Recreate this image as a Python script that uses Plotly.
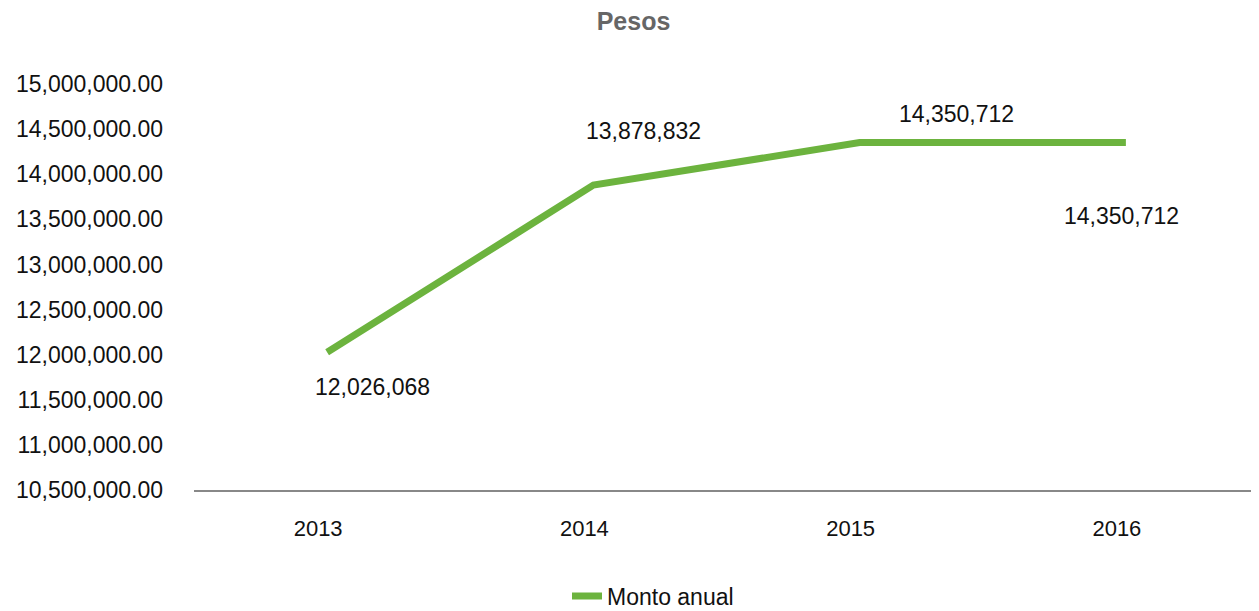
import plotly.graph_objects as go

years = ["2013", "2014", "2015", "2016"]
monto = [12026068, 13878832, 14350712, 14350712]
labels = ["12,026,068", "13,878,832", "14,350,712", "14,350,712"]
y_ticks = [10500000 + 500000 * i for i in range(10)]

green = "#6cb33e"
font = "Liberation Sans, Arial, sans-serif"

# page has an 8px body margin, so the figure is drawn 8px smaller
W, H = 1251, 603

fig = go.Figure()
fig.add_trace(go.Scatter(
    x=years, y=monto, mode="lines", name="Monto anual",
    line=dict(color=green, width=7),
    hoverinfo="x+y",
))

# label offsets (pixels) like the original data labels
# (category axis -> annotations need the category index, not "2013")
shifts = [(45, -35), (50, 54), (97, 29), (-4, -73)]
for i, (v, txt, (dx, dy)) in enumerate(zip(monto, labels, shifts)):
    fig.add_annotation(x=i, y=v, text=txt, showarrow=False,
                       xshift=dx, yshift=dy,
                       font=dict(family=font, size=23, color="#111"))

fig.update_layout(
    width=W, height=H,
    margin=dict(l=186, r=0, t=76, b=121),
    paper_bgcolor="white", plot_bgcolor="white",
    font=dict(family=font, size=21, color="#111"),
    title=dict(text="<b>Pesos</b>", x=0.5, xref="container", y=1 - 13 / H,
               yref="container", yanchor="middle",
               font=dict(family=font, size=25, color="#666")),
    showlegend=True,
    legend=dict(orientation="h", xref="container", yref="container",
                x=559 / W, xanchor="left", y=1 - 588 / H, yanchor="middle",
                font=dict(family=font, size=23, color="#111")),
)
fig.update_xaxes(type="category", range=[-0.5, len(years) - 0.5],
                 showgrid=False, showline=True,
                 linecolor="#888", linewidth=2,
                 ticks="outside", ticklen=18, tickcolor="rgba(0,0,0,0)",
                 ticklabelshift=-9, tickfont=dict(size=22))
fig.update_yaxes(range=[10500000, 15000000], tickvals=y_ticks,
                 tickformat=",.2f", showgrid=False, zeroline=False,
                 showline=False, ticks="", ticklabelstandoff=30,
                 tickfont=dict(size=23))

fig.write_html("out.html")
